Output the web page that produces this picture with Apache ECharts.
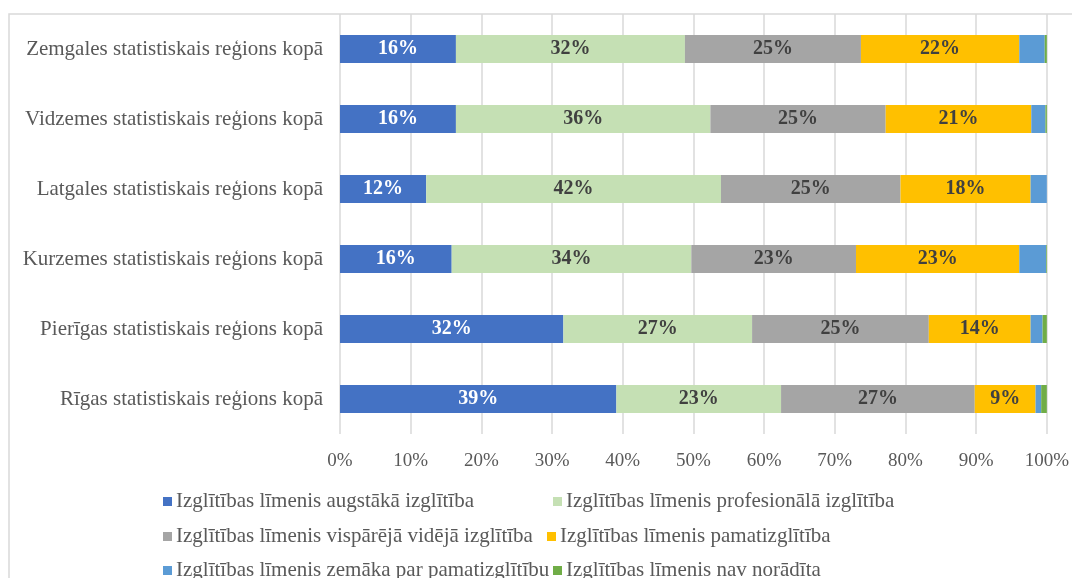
<!DOCTYPE html>
<html><head><meta charset="utf-8">
<script src="https://cdn.jsdelivr.net/npm/echarts@6/dist/echarts.min.js"></script>
<style>html,body{margin:0;padding:0;background:#fff}#c{width:1072px;height:578px}</style>
</head><body><div id="c"></div>
<script>
// categories listed top to bottom
const categories = [
  "Zemgales statistiskais reģions kopā",
  "Vidzemes statistiskais reģions kopā",
  "Latgales statistiskais reģions kopā",
  "Kurzemes statistiskais reģions kopā",
  "Pierīgas statistiskais reģions kopā",
  "Rīgas statistiskais reģions kopā"
];
const seriesNames = [
  "Izglītības līmenis augstākā izglītība",
  "Izglītības līmenis profesionālā izglītība",
  "Izglītības līmenis vispārējā vidējā izglītība",
  "Izglītības līmenis pamatizglītība",
  "Izglītības līmenis zemāka par pamatizglītību",
  "Izglītības līmenis nav norādīta"
];
const augstaka      = [16.4, 16.4, 12.2, 15.8, 31.6, 39.1];
const profesionala  = [32.4, 36.0, 41.7, 33.9, 26.7, 23.3];
const visparejaVid  = [24.9, 24.8, 25.4, 23.3, 25.0, 27.4];
const pamat         = [22.4, 20.6, 18.4, 23.1, 14.4, 8.6];
const zemaka        = [3.6, 2.0, 2.3, 3.8, 1.7, 0.8];
const navNoradita   = [0.3, 0.2, 0.0, 0.1, 0.6, 0.8];
const tickLabels = ["0%","10%","20%","30%","40%","50%","60%","70%","80%","90%","100%"];

const seriesData = [augstaka, profesionala, visparejaVid, pamat, zemaka, navNoradita];
const colors = ["#4472C4", "#C5E0B4", "#A5A5A5", "#FFC000", "#5B9BD5", "#70AD47"];
const labelColors = ["#FFFFFF", "#404040", "#404040", "#404040", null, null];
const FONT = "'Liberation Serif','Times New Roman',serif";

const legendPos = [
  {left: 163, top: 491}, {left: 553, top: 491},
  {left: 163, top: 526}, {left: 547, top: 526},
  {left: 163, top: 560}, {left: 553, top: 560}
];

const chart = echarts.init(document.getElementById('c'));
chart.setOption({
  animation: false,
  backgroundColor: '#fff',
  graphic: [{type: 'rect', shape: {x: 9, y: 14, width: 1100, height: 600}, style: {fill: 'none', stroke: '#d9d9d9', lineWidth: 1.5}, silent: true}],
  grid: {left: 340, right: 24, top: 14, bottom: 144, containLabel: false},
  legend: legendPos.map((p, i) => ({
    data: [seriesNames[i]], left: p.left, top: p.top, orient: 'horizontal',
    itemWidth: 9, itemHeight: 9, itemGap: 0, icon: 'rect',
    textStyle: {fontFamily: FONT, fontSize: 21, color: '#595959', padding: [0, 0, 0, -1]},
    padding: 0
  })),
  xAxis: {
    type: 'value', min: 0, max: 100, interval: 10,
    axisLine: {show: false}, axisTick: {show: false},
    splitLine: {lineStyle: {color: '#d9d9d9', width: 1.5}},
    axisLabel: {formatter: v => tickLabels[Math.round(v / 10)], fontFamily: FONT, fontSize: 19, color: '#595959', margin: 18}
  },
  yAxis: {
    type: 'category', data: categories, inverse: true,
    axisLine: {show: false}, axisTick: {show: false},
    axisLabel: {fontFamily: FONT, fontSize: 21, color: '#595959', margin: 17}
  },
  series: seriesData.map((d, i) => ({
    name: seriesNames[i], type: 'bar', stack: 'total', data: d, barWidth: 28,
    itemStyle: {color: colors[i]},
    label: labelColors[i] ? {
      show: true, position: 'inside', formatter: p => Math.round(p.value) + '%',
      fontFamily: FONT, fontSize: 20, fontWeight: 'bold', color: labelColors[i]
    } : {show: false}
  }))
});
</script></body></html>
